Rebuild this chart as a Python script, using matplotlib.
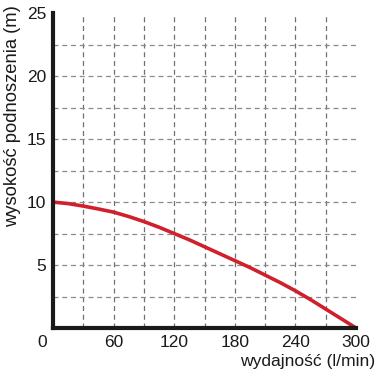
import matplotlib
matplotlib.use('Agg')
import matplotlib.pyplot as plt
import matplotlib.transforms as mtransforms

plt.rcParams['font.family'] = ['Liberation Sans', 'DejaVu Sans']

flow = [0, 15, 30, 45, 60, 75, 90, 105, 120, 135, 150, 165, 180, 195, 210, 225, 240, 255, 270, 285, 300]
head = [10.0, 9.88, 9.68, 9.45, 9.2, 8.85, 8.45, 8.0, 7.5, 7.0, 6.45, 5.9, 5.35, 4.8, 4.2, 3.6, 2.95, 2.25, 1.5, 0.75, 0.0]

x_ticks = [0, 60, 120, 180, 240, 300]
y_ticks = [5, 10, 15, 20, 25]
x_grid = [30, 60, 90, 120, 150, 180, 210, 240, 270]
y_grid = [2.5, 5, 7.5, 10, 12.5, 15, 17.5, 20, 22.5]

fig = plt.figure(figsize=(3.9, 3.77), dpi=100)
ax = fig.add_axes([0.136, 0.130, 0.777, 0.835])

# siatka
for gx in x_grid:
    ax.axvline(gx, color='#707070', lw=0.9, ls=(0, (4, 3)), zorder=1)
for gy in y_grid:
    ax.axhline(gy, color='#8c8c8c', lw=0.9, ls=(0, (4, 3)), zorder=1)

# krzywa pompy
ax.plot(flow, head, color='#d0202c', lw=2.6, zorder=3, solid_capstyle='round',
        solid_joinstyle='round')

ax.set_xlim(0, 300)
ax.set_ylim(0, 25)
ax.spines['top'].set_visible(False)
ax.spines['right'].set_visible(False)
for s in ['left', 'bottom']:
    ax.spines[s].set_linewidth(3)
    ax.spines[s].set_color('#1a1a1a')
    ax.spines[s].set_zorder(4)

ax.set_xticks(x_ticks)
ax.set_yticks(y_ticks)
ax.tick_params(length=0, labelsize=12.5, colors='#1a1a1a', pad=5)

# "0" przesuniete w lewo
lbl0 = ax.get_xticklabels()[0]
lbl0.set_transform(lbl0.get_transform() + mtransforms.ScaledTranslation(-11/100, 0, fig.dpi_scale_trans))

fig.text(0.962, 0.042, 'wydajność (l/min)', ha='right', va='center', fontsize=12.6, color='#1a1a1a')
fig.text(0.031, 0.693, 'wysokość podnoszenia (m)', ha='center', va='center', rotation=90, fontsize=13.2, color='#1a1a1a')

fig.savefig('out.png', dpi=100)
